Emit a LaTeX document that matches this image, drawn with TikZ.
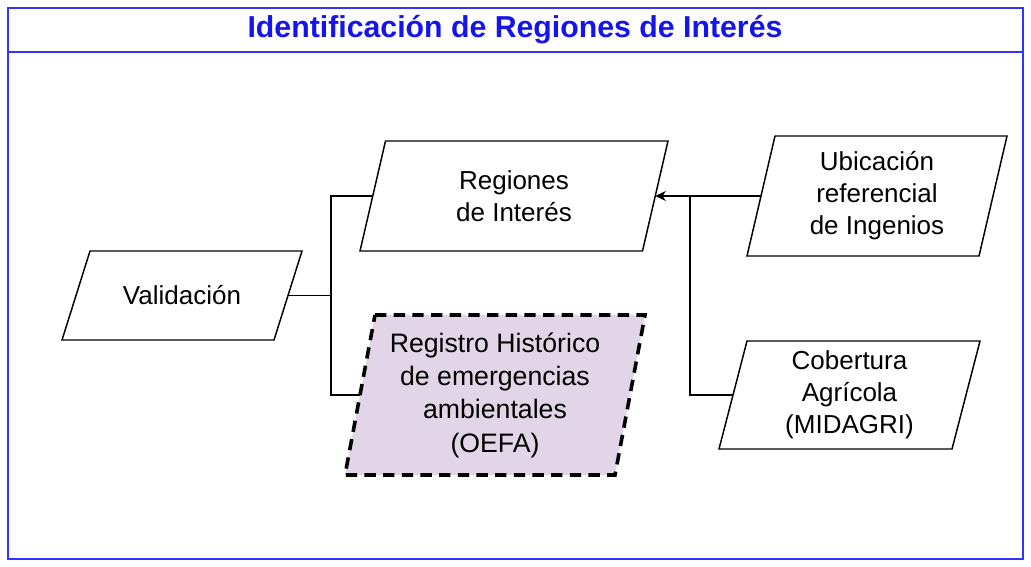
\documentclass[tikz,border=0pt]{standalone}
\usepackage{fontspec}
\setmainfont{Liberation Sans}
\usetikzlibrary{arrows.meta,calc,backgrounds}
\definecolor{framecol}{RGB}{51,51,255}
\definecolor{titlecol}{RGB}{20,20,235}
\definecolor{oefafill}{HTML}{E1D5E7}

% parallelogram round a named box: name, offset (px)
\newcommand{\paralelo}[3][]{%
  \draw[line width=1.1pt,#1] ($(#2.north west)+(#3,0)$) -- (#2.north east)
    -- ($(#2.south east)-(#3,0)$) -- (#2.south west) -- cycle;
  \coordinate (#2-w) at ($(#2.west)+(#3/2,0)$);
  \coordinate (#2-e) at ($(#2.east)-(#3/2,0)$);}

\begin{document}
\begin{tikzpicture}[x=0.75pt,y=-0.75pt,>={Stealth[length=8pt,width=7.5pt]},
  caja/.style={inner sep=0pt, outer sep=0pt, align=center,
    font=\fontsize{19.5}{24}\selectfont},
  link/.style={draw, line width=1.1pt}]
  \useasboundingbox (0,0) rectangle (1031,567);
  % marco y titulo
  \draw[framecol, line width=1.5pt] (8,8) rectangle (1023,559);
  \draw[framecol, line width=1.5pt] (8,52) -- (1023,52);
  \node[titlecol, font=\fontsize{22.7}{26}\selectfont\bfseries] (titulo) at (515,30) {Identificación de Regiones de Interés};

  % entradas y salidas
  \node[caja, minimum width=180pt, minimum height=66.75pt] (val) at (182,295.5) {Validación};
  \node[caja, minimum width=231pt, minimum height=82.5pt] (reg) at (514,196) {Regiones\\de Interés};
  \node[caja, minimum width=195pt, minimum height=90pt] (ubi) at (877,196) {Ubicación\\referencial\\de Ingenios};
  \node[caja, minimum width=195.75pt, minimum height=81pt] (cob) at (849.5,395) {Cobertura\\Agrícola\\(MIDAGRI)};
  \node[caja, minimum width=225pt, minimum height=120pt, font=\fontsize{20}{25}\selectfont] (oefa) at (495,395) {Registro Histórico\\de emergencias\\ambientales\\(OEFA)};
  \paralelo{val}{28}
  \paralelo{reg}{25.5}
  \paralelo{ubi}{28}
  \paralelo{cob}{28}
  \begin{scope}[on background layer]
    \paralelo[fill=oefafill, line width=2.7pt, dash pattern=on 8.5pt off 5.5pt]{oefa}{30}
  \end{scope}

  % conectores
  \coordinate (jL) at (331,295.5);
  \coordinate (jR) at (690,196);
  \draw[link] (val-e) -- (jL);
  \draw[link] (reg-w) -| (jL) |- (oefa-w);
  \draw[link,->] (ubi-w) -- (reg-e);
  \draw[link] (cob-w) -| (jR);
\end{tikzpicture}
\end{document}
